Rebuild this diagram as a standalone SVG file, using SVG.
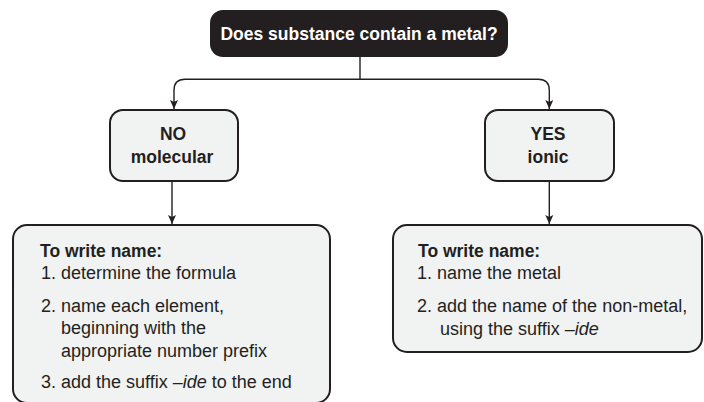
<svg xmlns="http://www.w3.org/2000/svg" width="704" height="402" viewBox="0 0 704 402">
<style>
.box{fill:#f1f2f2;stroke:#231f20;stroke-width:2}
.dark{fill:#231f20;stroke:none}
.conn{fill:none;stroke:#231f20;stroke-width:1.4}
.t{font-family:"Liberation Sans",Arial,sans-serif;fill:#231f20;font-size:18px}
.b{font-weight:bold;font-size:17.5px}
.w{fill:#ffffff}
.c{text-anchor:middle}
</style>
<defs>
<marker id="ah" markerWidth="10" markerHeight="10" viewBox="0 0 10 10" refX="9" refY="5" orient="auto" markerUnits="userSpaceOnUse">
<path d="M0,1 L9,5 L0,9 L2,5 Z" fill="#231f20"/>
</marker>
</defs>
<rect width="704" height="402" fill="#ffffff"/>
<g id="connectors">
<path class="conn" d="M360,57 V79.3"/>
<path class="conn" d="M360,79.3 H185 Q174,79.3 174,90.3 V109" marker-end="url(#ah)"/>
<path class="conn" d="M360,79.3 H538.3 Q549.3,79.3 549.3,90.3 V109" marker-end="url(#ah)"/>
<path class="conn" d="M172,181 V224" marker-end="url(#ah)"/>
<path class="conn" d="M549.3,181 V224" marker-end="url(#ah)"/>
</g>
<g id="question">
<rect class="dark" x="210" y="10" width="298" height="47" rx="13"/>
<text class="t b w c" x="359" y="40">Does substance contain a metal?</text>
</g>
<g id="no">
<rect class="box" x="110" y="110" width="128" height="71" rx="13"/>
<text class="t b c" x="173" y="140">NO</text>
<text class="t b c" x="172" y="163">molecular</text>
</g>
<g id="yes">
<rect class="box" x="485" y="110" width="129" height="71" rx="13"/>
<text class="t b c" x="548" y="140">YES</text>
<text class="t b c" x="548" y="163">ionic</text>
</g>
<g id="molecular-steps">
<rect class="box" x="13" y="225" width="317" height="178" rx="14"/>
<text class="t b" x="40" y="256.7">To write name:</text>
<text class="t" x="41" y="279.3">1. determine the formula</text>
<text class="t" x="41" y="311.7">2. name each element,</text>
<text class="t" x="61" y="334">beginning with the</text>
<text class="t" x="61" y="356.5">appropriate number prefix</text>
<text class="t" x="41" y="388.3">3. add the suffix <tspan font-style="italic">–ide</tspan> to the end</text>
</g>
<g id="ionic-steps">
<rect class="box" x="393" y="225" width="309" height="127" rx="14"/>
<text class="t b" x="418" y="256.7">To write name:</text>
<text class="t" x="417" y="279.3">1. name the metal</text>
<text class="t" x="417" y="311.7">2. add the name of the non-metal,</text>
<text class="t" x="440" y="335">using the suffix <tspan font-style="italic">–ide</tspan></text>
</g>
</svg>
